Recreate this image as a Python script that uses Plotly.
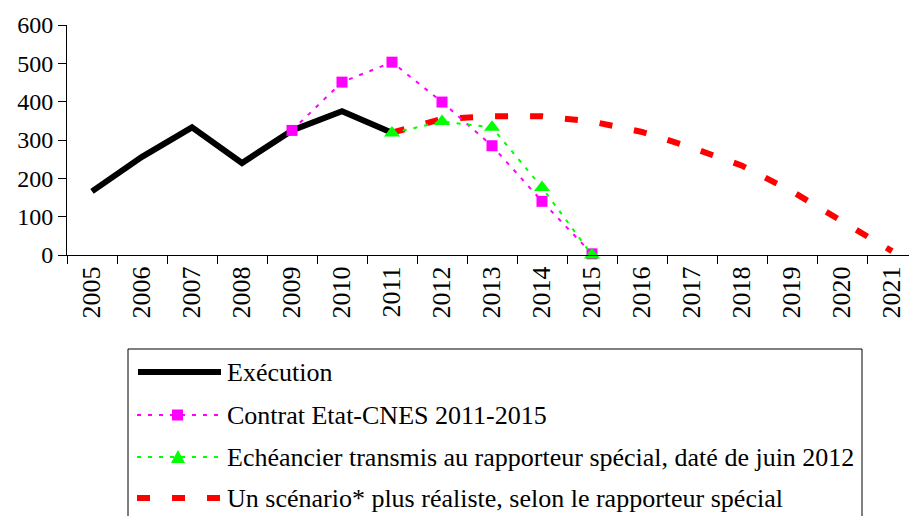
import plotly.graph_objects as go

years = [str(y) for y in range(2005, 2022)]
execution = [166, 256, 333, 240, 325, 375, 319, None, None, None, None, None, None, None, None, None, None]
contrat = [None, None, None, None, 325, 451, 503, 399, 285, 140, 3, None, None, None, None, None, None]
echeancier = [None, None, None, None, None, None, 318, 348, 333, 176, 0, None, None, None, None, None, None]
scenario = [None, None, None, None, None, None, 319, 355, 362, 362, 348, 321, 280, 233, 166, 89, 10]

names = [
    "Exécution",
    "Contrat Etat-CNES 2011-2015",
    "Echéancier transmis au rapporteur spécial, daté de juin 2012",
    "Un scénario* plus réaliste, selon le rapporteur spécial",
]
y_ticks = [0, 100, 200, 300, 400, 500, 600]

FONT = "Liberation Serif"
OFF = 8  # page body margin
W, H = 917 - OFF, 516 - OFF
L, R, T, B = 67 - OFF, 0, 25 - OFF, 261
PW, PH = W - L - R, H - T - B


def px(x):
    return (x - OFF - L) / PW


def py(y):
    return (H - B - (y - OFF)) / PH


DOT = "4px,7px"
fig = go.Figure()
fig.add_trace(go.Scatter(x=years, y=execution, mode="lines", name=names[0],
                         line=dict(color="black", width=6), cliponaxis=False))
fig.add_trace(go.Scatter(x=years, y=scenario, mode="lines", name=names[3],
                         line=dict(color="#FF0000", width=6, dash="13px,22px"), cliponaxis=False))
fig.add_trace(go.Scatter(x=years, y=contrat, mode="lines+markers", name=names[1],
                         line=dict(color="#FF00FF", width=2, dash=DOT),
                         marker=dict(symbol="square", size=11, color="#FF00FF"), cliponaxis=False))
fig.add_trace(go.Scatter(x=years, y=echeancier, mode="lines+markers", name=names[2],
                         line=dict(color="#00FF00", width=2, dash=DOT),
                         marker=dict(symbol="triangle-up", size=14, color="#00FF00"), cliponaxis=False))

shapes = []
annotations = []
# legend box
shapes.append(dict(type="rect", xref="paper", yref="paper", x0=px(128), x1=px(862), y0=py(540), y1=py(349),
                   line=dict(color="black", width=1), fillcolor="rgba(0,0,0,0)"))
rows = [372, 415, 457, 498]
# samples
shapes.append(dict(type="line", xref="paper", yref="paper", x0=px(138), x1=px(221), y0=py(rows[0]), y1=py(rows[0]),
                   line=dict(color="black", width=6)))
shapes.append(dict(type="line", xref="paper", yref="paper", x0=px(137), x1=px(218), y0=py(rows[1]), y1=py(rows[1]),
                   line=dict(color="#FF00FF", width=2, dash=DOT)))
shapes.append(dict(type="rect", xref="paper", yref="paper", x0=px(172), x1=px(183), y0=py(rows[1] + 5.5), y1=py(rows[1] - 5.5),
                   line=dict(width=0), fillcolor="#FF00FF"))
shapes.append(dict(type="line", xref="paper", yref="paper", x0=px(137), x1=px(218), y0=py(rows[2]), y1=py(rows[2]),
                   line=dict(color="#00FF00", width=2, dash=DOT)))
tri = "M{},{} L{},{} L{},{} Z".format(px(171), py(rows[2] + 6), px(185), py(rows[2] + 6), px(178), py(rows[2] - 7))
shapes.append(dict(type="path", xref="paper", yref="paper", path=tri, line=dict(width=0), fillcolor="#00FF00"))
shapes.append(dict(type="line", xref="paper", yref="paper", x0=px(137), x1=px(221), y0=py(rows[3]), y1=py(rows[3]),
                   line=dict(color="#FF0000", width=6, dash="13px,22px")))
for r, n in zip(rows, names):
    annotations.append(dict(xref="paper", yref="paper", x=px(225), y=py(r), text=n, showarrow=False,
                            xanchor="left", yanchor="middle", font=dict(family=FONT, size=26, color="black")))

fig.update_layout(
    width=W, height=H,
    margin=dict(l=L, r=R, t=T, b=B, pad=0),
    paper_bgcolor="white", plot_bgcolor="white",
    showlegend=False,
    font=dict(family=FONT, size=24, color="black"),
    shapes=shapes, annotations=annotations,
)
fig.update_xaxes(type="category", categoryorder="array", categoryarray=years,
                 range=[-0.5, len(years) - 0.5],
                 tickson="boundaries", ticks="outside", ticklen=8, tickcolor="black", tickwidth=1,
                 showline=True, linecolor="black", linewidth=1,
                 showgrid=False, zeroline=False, tickangle=-90,
                 tickfont=dict(family=FONT, size=26, color="black"))
fig.update_yaxes(range=[0, 600], tickvals=y_ticks, ticktext=[str(v) for v in y_ticks],
                 ticks="outside", ticklen=8, tickcolor="black", tickwidth=1,
                 showline=True, linecolor="black", linewidth=1,
                 showgrid=False, zeroline=False,
                 tickfont=dict(family=FONT, size=24, color="black"))

fig.write_html("out.html")
